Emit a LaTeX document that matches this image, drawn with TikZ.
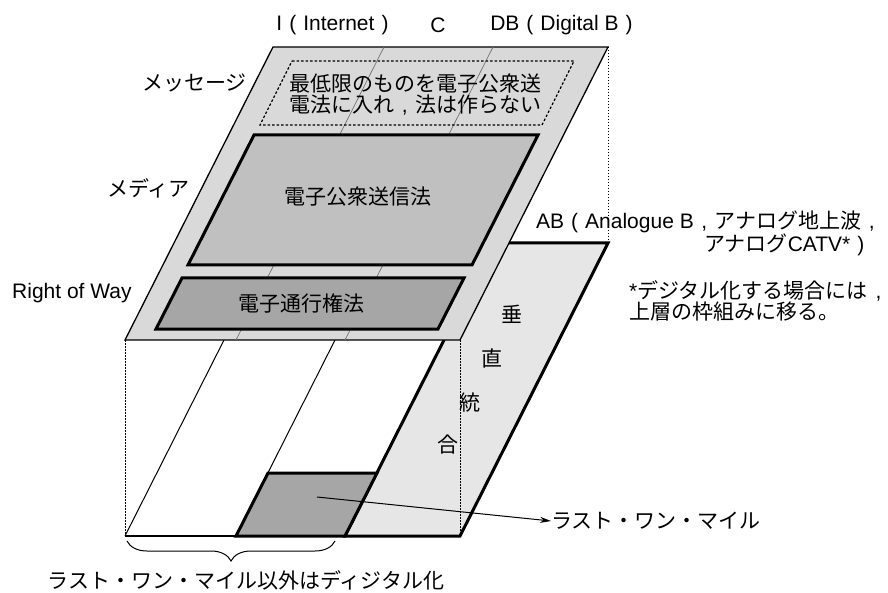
\documentclass[tikz,border=0pt]{standalone}
\usepackage{fontspec}
\setmainfont{Liberation Sans}
\newfontfamily\jpf{Noto Sans CJK JP}
\usetikzlibrary{arrows.meta,decorations.pathreplacing}
\newcommand\jt[1]{{\jpf #1}}
\newcommand\fw[1]{\makebox[1em]{#1}}
\definecolor{plategray}{HTML}{D9D9D9}
\definecolor{mediagray}{HTML}{C0C0C0}
\definecolor{rowgray}{HTML}{A6A6A6}
\definecolor{abgray}{HTML}{E6E6E6}
\begin{document}
\begin{tikzpicture}[x=1pt,y=-1pt,
  every node/.style={inner sep=0pt,font=\fontsize{21}{21}\selectfont},
  plate/.style={fill=plategray,draw=black,line width=1.3pt,line join=miter},
  thickbox/.style={draw=black,line width=3pt,line join=miter},
  divider/.style={draw=black!55,line width=0.7pt},
  proj/.style={draw=black,line width=0.9pt,dash pattern=on 1.5pt off 1.5pt},
  msgbox/.style={draw=black,line width=1.2pt,dash pattern=on 2.5pt off 2pt},
  thinline/.style={draw=black,line width=1pt}]
\useasboundingbox (0,0) rectangle (888,593);
% coordinates
\coordinate (tTL) at (273,47);  \coordinate (tTR) at (608,47);
\coordinate (tBR) at (460,340); \coordinate (tBL) at (125,340);
\coordinate (lTR) at (608,243); \coordinate (lBR) at (460,536);
\coordinate (lBL) at (125,536);
\coordinate (tD1t) at (384,47); \coordinate (tD1b) at (236,340);
\coordinate (tD2t) at (493,47); \coordinate (tD2b) at (345,340);
\coordinate (lD1b) at (236,536); \coordinate (lD2t) at (493,243);
\coordinate (lD2b) at (345,536);
\coordinate (lLm) at (224,340); \coordinate (lMm) at (335,340);
% AB plate (lower third strip)
\fill[abgray] (lD2t) -- (lTR) -- (lBR) -- (lD2b) -- cycle;
\draw[thickbox] (lD2t) -- (lTR) -- (lBR) -- (lD2b) -- cycle;
% lower plate lines
\draw[thinline] (lBL) -- (lLm);
\draw[thinline] (lD1b) -- (lMm);
\draw[draw=black,line width=1.3pt] (lBL) -- (lD1b);
% last one mile square
\coordinate (sqTL) at (268,473); \coordinate (sqTR) at (377,473);
\fill[rowgray] (sqTL) -- (sqTR) -- (lD2b) -- (lD1b) -- cycle;
\draw[thickbox] (sqTL) -- (sqTR) -- (lD2b) -- (lD1b) -- cycle;
% projection lines
\draw[proj] (tBL) -- (lBL);
\draw[proj] (tBR) -- (lBR);
\draw[proj] (tTR) -- (lTR);
% top plate
\draw[plate] (tTL) -- (tTR) -- (tBR) -- (tBL) -- cycle;
\draw[divider] (tD1t) -- (tD1b);
\draw[divider] (tD2t) -- (tD2b);
% message box
\draw[msgbox] (292,61) -- (574,61) -- (542,125) -- (260,125) -- cycle;
% media box
\draw[thickbox,fill=mediagray] (254,135) -- (538,135) -- (472,265) -- (188,265) -- cycle;
% right of way box
\draw[thickbox,fill=rowgray] (182,278) -- (464,278) -- (438,329) -- (156,329) -- cycle;
% texts
\node (lI) at (336,25) {I\fw{(}Internet\fw{)}};
\node (lC) at (438,25) {C};
\node (lDB) at (565,25) {DB\fw{(}Digital B\fw{)}};
\node[anchor=east] (lmsg) at (247,83) {\jt{メッセージ}};
\node[anchor=west,align=left] (msgtxt) at (289,95) {\jt{最低限のものを電子公衆送}\\\jt{電法に入れ}\fw{,}\jt{法は作らない}};
\node[anchor=east] (lmedia) at (190,188) {\jt{メディア}};
\node (medtxt) at (358,197) {\jt{電子公衆送信法}};
\node[anchor=west] (lrow) at (12,293) {Right of Way};
\node (rowtxt) at (301,303) {\jt{電子通行権法}};
\node[anchor=west] (ab1) at (536,222) {AB\fw{(}Analogue B\fw{,}\jt{アナログ地上波}\fw{,}};
\node[anchor=west] (ab2) at (704,245) {\jt{アナログ}CATV*\fw{)}};
\node[anchor=west,align=left] (note) at (629,301) {*\jt{デジタル化する場合には}\fw{,}\\\jt{上層の枠組みに移る。}};
\node (v1) at (512,314) {\jt{垂}};
\node (v2) at (492,358) {\jt{直}};
\node (v3) at (470,403) {\jt{統}};
\node (v4) at (448,445) {\jt{合}};
\coordinate (sqc) at (317,497);
\node[anchor=west] (lm) at (551,521) {\jt{ラスト・ワン・マイル}};
\draw[line width=1pt,-{Stealth[length=11pt,width=6pt]}] (sqc) -- (lm.west);
\coordinate (brL) at (127,541); \coordinate (brR) at (335,541);
\draw[line width=1pt,decorate,decoration={brace,amplitude=20pt,mirror}] (brL) -- (brR);
\node (bottxt) at (246,580) {\jt{ラスト・ワン・マイル以外はディジタル化}};
\end{tikzpicture}
\end{document}
